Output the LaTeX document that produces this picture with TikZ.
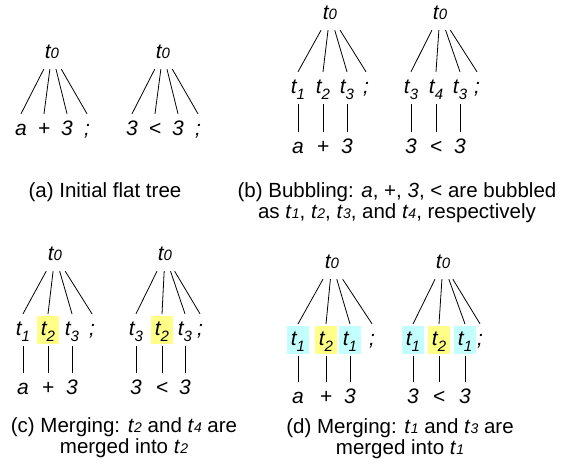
\documentclass[tikz,border=0pt]{standalone}
\usepackage{fontspec}
\setmainfont{Liberation Sans}
\definecolor{mergeyellow}{RGB}{255,255,136}
\definecolor{mergecyan}{RGB}{196,255,255}
\newcommand{\tsym}[1]{\textit{t}\raisebox{-6pt}{\fontsize{15}{15}\selectfont\textit{#1}}}
\newcommand{\troot}{\textit{t}{\fontsize{15}{15}\selectfont\textit{0}}}
\newcommand{\tcap}[1]{\textit{t}{\fontsize{14}{14}\selectfont\textit{#1}}}
\tikzset{
  tree edge/.style={line width=0.8pt},
  tok/.style={
    font=\fontsize{21}{21}\selectfont\itshape,
    inner sep=0pt,
    text height=14pt,
    text depth=4pt,
    minimum height=32pt,
    minimum width=26pt
  },
  hl/.style={tok, minimum width=22pt, minimum height=28pt, outer sep=2pt},
  caption/.style={font=\fontsize{20.5}{21}\selectfont, align=center}
}

\begin{document}
\begin{tikzpicture}[x=1pt,y=-1pt]
\useasboundingbox (0,0) rectangle (576,467);
% (a) flat trees
\node[tok] (aLroot) at (52,53) {\troot};
\foreach \lx/\s [count=\i] in {21/a,44/+,67/3,87/{;}} {
  \node[tok] (aLleaf\i) at (\lx,130) {\s};
  \draw[tree edge] (aLroot) -- (aLleaf\i.north);
}
\node[tok] (aRroot) at (163,53) {\troot};
\foreach \lx/\s [count=\i] in {132/3,155/<,178/3,198/{;}} {
  \node[tok] (aRleaf\i) at (\lx,130) {\s};
  \draw[tree edge] (aRroot) -- (aRleaf\i.north);
}
\node[caption] (capa) at (105,192) {(a) Initial flat tree};

% (b) bubbling
\node[tok] (bLroot) at (330,14) {\troot};
\foreach \mx/\s/\w [count=\i] in {298/1/a,323/2/+,347/3/3} {
  \node[tok] (bLmid\i) at (\mx,88) {\tsym{\s}};
  \node[tok] (bLleaf\i) at (\mx,148) {\w};
  \draw[tree edge] (bLroot) -- (bLmid\i.north);
  \draw[tree edge] (bLmid\i) -- (bLleaf\i);
}
\node[tok] (bLsemi) at (366,88) {;};
\draw[tree edge] (bLroot) -- (bLsemi.north);
\node[tok] (bRroot) at (440,14) {\troot};
\foreach \mx/\s/\w [count=\i] in {411/3/3,436/4/<,460/3/3} {
  \node[tok] (bRmid\i) at (\mx,88) {\tsym{\s}};
  \node[tok] (bRleaf\i) at (\mx,148) {\w};
  \draw[tree edge] (bRroot) -- (bRmid\i.north);
  \draw[tree edge] (bRmid\i) -- (bRleaf\i);
}
\node[tok] (bRsemi) at (477,88) {;};
\draw[tree edge] (bRroot) -- (bRsemi.north);
\node[caption] (capb) at (397,203) {(b) Bubbling: \textit{a}, +, \textit{3}, < are bubbled\\as \tcap{1}, \tcap{2}, \tcap{3}, and \tcap{4}, respectively};

% (c) merging t2 and t4
\node[tok] (cLroot) at (55,255) {\troot};
\node[tok] (cLmid1) at (23,330) {\tsym{1}};
\node[hl, fill=mergeyellow] (cLmid2) at (48,330) {\tsym{2}};
\node[tok] (cLmid3) at (72,330) {\tsym{3}};
\foreach \w [count=\i] in {a,+,3} {
  \node[tok] (cLleaf\i) at (cLmid\i |- 0,389) {\w};
  \draw[tree edge] (cLroot) -- (cLmid\i.north);
  \draw[tree edge] (cLmid\i) -- (cLleaf\i);
}
\node[tok] (cLsemi) at (92,330) {;};
\draw[tree edge] (cLroot) -- (cLsemi.north);
\node[tok] (cRroot) at (165,255) {\troot};
\node[tok] (cRmid1) at (136,330) {\tsym{3}};
\node[hl, fill=mergeyellow] (cRmid2) at (162,330) {\tsym{2}};
\node[tok] (cRmid3) at (185,330) {\tsym{3}};
\foreach \w [count=\i] in {3,<,3} {
  \node[tok] (cRleaf\i) at (cRmid\i |- 0,389) {\w};
  \draw[tree edge] (cRroot) -- (cRmid\i.north);
  \draw[tree edge] (cRmid\i) -- (cRleaf\i);
}
\node[tok] (cRsemi) at (200,330) {;};
\draw[tree edge] (cRroot) -- (cRsemi.north);
\node[caption] (capc) at (124,438) {(c) Merging: \tcap{2} and \tcap{4} are\\merged into \tcap{2}};

% (d) merging t1 and t3
\node[tok] (dLroot) at (332,263) {\troot};
\node[hl, fill=mergecyan] (dLmid1) at (298,340) {\tsym{1}};
\node[hl, fill=mergeyellow] (dLmid2) at (326,340) {\tsym{2}};
\node[hl, fill=mergecyan] (dLmid3) at (350,340) {\tsym{1}};
\foreach \w [count=\i] in {a,+,3} {
  \node[tok] (dLleaf\i) at (dLmid\i |- 0,398) {\w};
  \draw[tree edge] (dLroot) -- (dLmid\i.north);
  \draw[tree edge] (dLmid\i) -- (dLleaf\i);
}
\node[tok] (dLsemi) at (372,340) {;};
\draw[tree edge] (dLroot) -- (dLsemi.north);
\node[tok] (dRroot) at (443,263) {\troot};
\node[hl, fill=mergecyan] (dRmid1) at (413,340) {\tsym{1}};
\node[hl, fill=mergeyellow] (dRmid2) at (439,340) {\tsym{2}};
\node[hl, fill=mergecyan] (dRmid3) at (465,340) {\tsym{1}};
\foreach \w [count=\i] in {3,<,3} {
  \node[tok] (dRleaf\i) at (dRmid\i |- 0,398) {\w};
  \draw[tree edge] (dRroot) -- (dRmid\i.north);
  \draw[tree edge] (dRmid\i) -- (dRleaf\i);
}
\node[tok] (dRsemi) at (480,340) {;};
\draw[tree edge] (dRroot) -- (dRsemi.north);
\node[caption] (capd) at (400,439) {(d) Merging: \tcap{1} and \tcap{3} are\\merged into \tcap{1}};
\end{tikzpicture}
\end{document}
